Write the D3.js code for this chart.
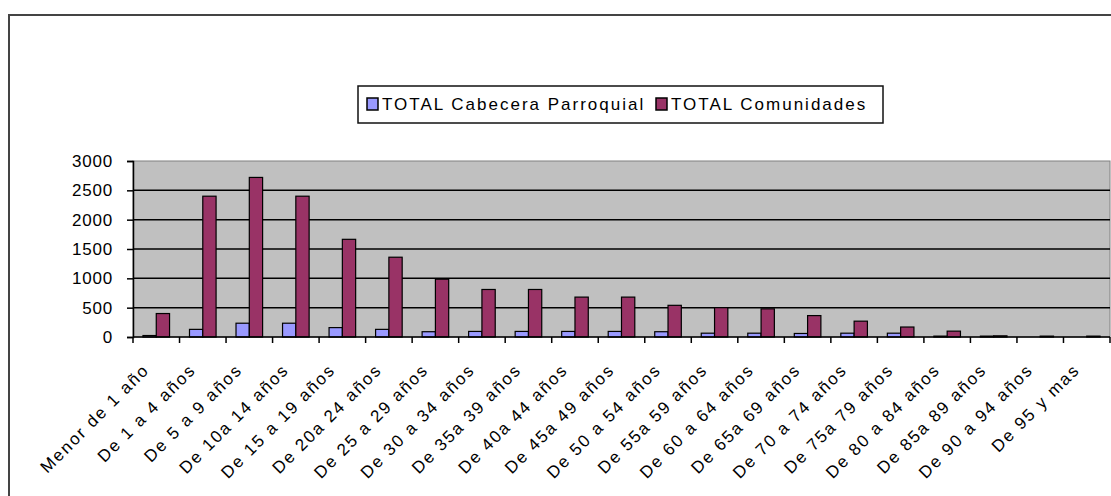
<!DOCTYPE html>
<html>
<head>
<meta charset="utf-8">
<script src="https://cdn.jsdelivr.net/npm/d3@7"></script>
<style>
  body { margin: 0; background: #fff; }
  text { font-family: "Liberation Sans", Arial, sans-serif; fill: #000; }
</style>
</head>
<body>
<div id="chart"></div>
<script>
let WIDTH = 1111
let HEIGHT = 496

// age groups and the two series
let categories = ["Menor de 1 año", "De 1 a 4 años", "De 5 a 9 años", "De 10a 14 años",
  "De 15 a 19 años", "De 20a 24 años", "De 25 a 29 años", "De 30 a 34 años",
  "De 35a 39 años", "De 40a 44 años", "De 45a 49 años", "De 50 a 54 años",
  "De 55a 59 años", "De 60 a 64 años", "De 65a 69 años", "De 70 a 74 años",
  "De 75a 79 años", "De 80 a 84 años", "De 85a 89 años", "De 90 a 94 años",
  "De 95 y mas"]
let cabecera = [25, 130, 235, 235, 160, 130, 90, 95, 95, 95, 95, 90, 65, 65, 60, 65, 65, 15, 15, 0, 0]
let comunidades = [400, 2400, 2720, 2400, 1665, 1360, 985, 810, 810, 680, 680, 540, 500, 480, 365, 270, 170, 100, 20, 15, 15]
let seriesNames = ["TOTAL Cabecera Parroquial", "TOTAL Comunidades"]
let seriesColors = ["#9999ff", "#993366"]
let yTicks = [0, 500, 1000, 1500, 2000, 2500, 3000]

let rows = categories.map((c, i) => ({cat: c, vals: [cabecera[i], comunidades[i]]}))

let svg = d3.select("#chart")
    .append("svg")
    .attr("width", WIDTH)
    .attr("height", HEIGHT)

// outer chart frame (runs off the right / bottom of the picture)
svg.append("rect")
    .attr("x", 9).attr("y", 15)
    .attr("width", 1300).attr("height", 700)
    .attr("fill", "none")
    .attr("stroke", "#444")
    .attr("stroke-width", 2)

let plotLeft = 133, plotRight = 1110, plotTop = 161, plotBottom = 337

let x = d3.scaleBand()
    .domain(categories)
    .range([plotLeft, plotRight])
    .padding(0)
let x1 = d3.scaleBand()
    .domain([0, 1])
    .range([0, x.bandwidth()])
    .paddingInner(0)
    .paddingOuter(0.75)
let y = d3.scaleLinear()
    .domain([0, 3000])
    .range([plotBottom, plotTop])

// plot area
svg.append("rect")
    .attr("x", plotLeft).attr("y", plotTop)
    .attr("width", plotRight - plotLeft).attr("height", plotBottom - plotTop)
    .attr("fill", "#c0c0c0")
    .attr("stroke", "#808080")
    .attr("stroke-width", 1)

// gridlines
svg.append("g")
    .selectAll("line")
    .data(yTicks.filter(t => t > 0 && t < 3000))
    .join("line")
    .attr("x1", plotLeft).attr("x2", plotRight)
    .attr("y1", d => y(d)).attr("y2", d => y(d))
    .attr("stroke", "#000")
    .attr("stroke-width", 1.5)

// bars
let groups = svg.append("g")
    .selectAll("g")
    .data(rows)
    .join("g")
    .attr("transform", d => `translate(${x(d.cat)},0)`)
groups.selectAll("rect")
    .data(d => d.vals.map((v, i) => ({i: i, v: v})).filter(e => e.v > 0))
    .join("rect")
    .attr("x", d => x1(d.i))
    .attr("width", x1.bandwidth())
    .attr("y", d => y(d.v))
    .attr("height", d => y(0) - y(d.v))
    .attr("fill", d => seriesColors[d.i])
    .attr("stroke", "#000")
    .attr("stroke-width", 1.2)

// y axis
let yAxis = d3.axisLeft(y).tickValues(yTicks).tickFormat(d3.format("d")).tickSize(6).tickPadding(14)
let gy = svg.append("g")
    .attr("transform", `translate(${plotLeft},0)`)
    .call(yAxis)
gy.select(".domain").attr("stroke", "#000").attr("stroke-width", 1.5)
gy.selectAll(".tick line").attr("stroke", "#000").attr("stroke-width", 1.5)
gy.selectAll(".tick text")
    .style("font-size", "17px")
    .style("font-family", "Liberation Sans, Arial, sans-serif")
    .style("letter-spacing", "0.8px")
    .attr("fill", "#000")

// x axis: ticks on category boundaries
let gx = svg.append("g")
svg.append("line")
    .attr("x1", plotLeft).attr("x2", plotRight)
    .attr("y1", plotBottom).attr("y2", plotBottom)
    .attr("stroke", "#000").attr("stroke-width", 1.5)
gx.selectAll("line")
    .data(categories.concat(["_end"]))
    .join("line")
    .attr("x1", d => d === "_end" ? plotRight : x(d))
    .attr("x2", d => d === "_end" ? plotRight : x(d))
    .attr("y1", plotBottom).attr("y2", plotBottom + 6)
    .attr("stroke", "#000").attr("stroke-width", 1.5)

gx.selectAll("text")
    .data(categories)
    .join("text")
    .attr("transform", d => `translate(${x(d) + x.bandwidth() / 2 - 6},${plotBottom + 34}) rotate(-45)`)
    .attr("text-anchor", "end")
    .style("font-size", "17px")
    .style("letter-spacing", "1.9px")
    .text(d => d)

// legend
let legend = svg.append("g")
legend.append("rect")
    .attr("x", 358).attr("y", 86)
    .attr("width", 525).attr("height", 37)
    .attr("fill", "#fff")
    .attr("stroke", "#111")
    .attr("stroke-width", 1.5)
let legendX = [367, 656]
let legendItems = legend.selectAll("g.item")
    .data(seriesNames)
    .join("g")
    .attr("class", "item")
    .attr("transform", (d, i) => `translate(${legendX[i]},98)`)
legendItems.append("rect")
    .attr("width", 11).attr("height", 12)
    .attr("fill", (d, i) => seriesColors[i])
    .attr("stroke", "#000")
    .attr("stroke-width", 1.5)
legendItems.append("text")
    .attr("x", 15).attr("y", 12)
    .style("font-size", "17px")
    .style("letter-spacing", "2px")
    .text(d => d)
</script>
</body>
</html>
